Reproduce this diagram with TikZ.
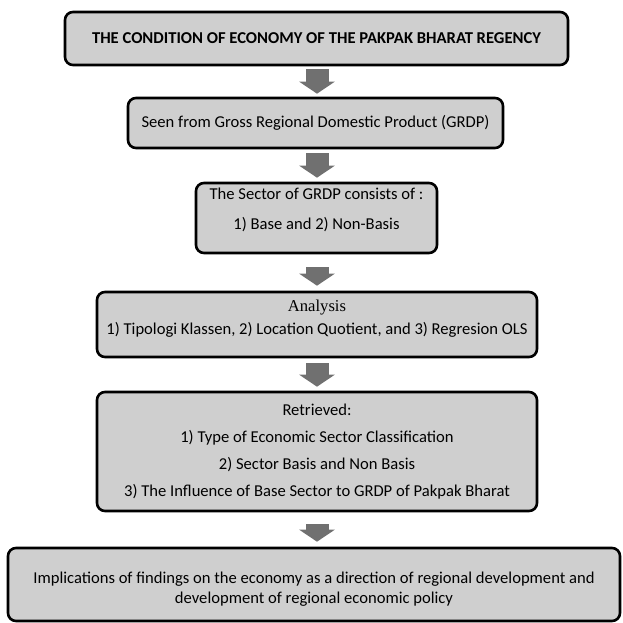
\documentclass[tikz,border=0pt]{standalone}
\usepackage{fontspec}
\setmainfont{Carlito}
\newfontfamily\anfont{Liberation Serif}
\usepackage{tikz}
\usetikzlibrary{arrows.meta}
\definecolor{boxgray}{RGB}{207,207,207}
\definecolor{arrgray}{RGB}{112,112,112}

\begin{document}
\begin{tikzpicture}[x=1pt,y=-1pt,
  box/.style={draw=black,fill=boxgray,line width=2.6pt,rounded corners=8pt,
    align=center,inner sep=0pt,font=\fontsize{16.6}{20}\selectfont},
  blockarrow/.style={draw=arrgray,line width=23pt,
    -{Triangle[width=35pt,length=12pt,fill=arrgray]}}]
\useasboundingbox (0,0) rectangle (622,623);
% boxes
\node[box,minimum width=503pt,minimum height=53pt,font=\fontsize{16.6}{20}\selectfont\bfseries]
  (cond) at (316.5,38.5) {THE CONDITION OF ECONOMY OF THE PAKPAK BHARAT REGENCY};
\node[box,minimum width=375pt,minimum height=50pt]
  (grdp) at (315.5,123) {Seen from Gross Regional Domestic Product (GRDP)};
\node[box,minimum width=241pt,minimum height=70pt,text depth=18pt]
  (sector) at (316.5,218) {The Sector of GRDP consists of :\\[10pt] 1) Base and 2) Non-Basis};
\node[box,minimum width=440pt,minimum height=65pt,text depth=14pt]
  (analysis) at (317,324.5) {{\anfont Analysis}\\[3pt] 1) Tipologi Klassen, 2) Location Quotient, and 3) Regresion OLS};
\node[box,minimum width=440pt,minimum height=119pt]
  (retrieved) at (317,451.5) {Retrieved:\\[7pt] 1) Type of Economic Sector Classification\\[7pt]
  2) Sector Basis and Non Basis\\[7pt] 3) The Influence of Base Sector to GRDP of Pakpak Bharat};
\node[box,minimum width=612pt,minimum height=73pt]
  (impl) at (314,584.5) {\rule{0pt}{21pt}Implications of findings on the economy as a direction of regional development and\\
  development of regional economic policy};
% arrows
\draw[blockarrow,shorten <=3pt,shorten >=3pt] (cond.south -| 317,0) -- (grdp.north -| 317,0);
\draw[blockarrow,shorten <=4pt,shorten >=4pt] (grdp.south -| 317,0) -- (sector.north -| 317,0);
\draw[blockarrow,shorten <=13pt,shorten >=5pt] (sector.south -| 317,0) -- (analysis.north -| 317,0);
\draw[blockarrow,shorten <=5pt,shorten >=4pt] (analysis.south -| 317,0) -- (retrieved.north -| 317,0);
\draw[blockarrow,shorten <=12pt,shorten >=5pt] (retrieved.south -| 317,0) -- (impl.north -| 317,0);
\end{tikzpicture}
\end{document}
